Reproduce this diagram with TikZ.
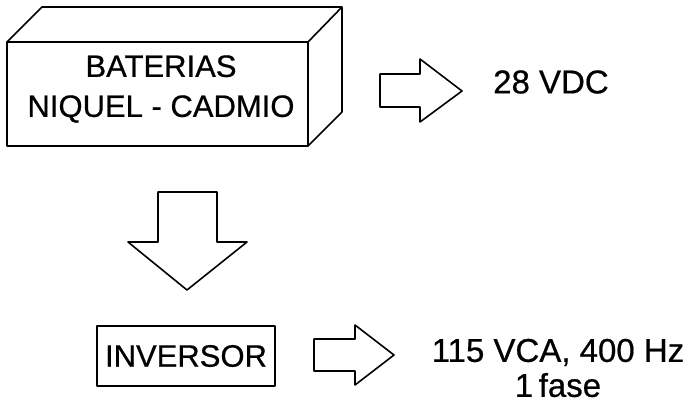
\documentclass[tikz,border=0pt]{standalone}
\usepackage{fontspec}
\setmainfont{Liberation Sans}[FakeBold=0.6]
\usetikzlibrary{positioning}

\begin{document}
\begin{tikzpicture}[
  x=1pt, y=-1pt,
  line join=round,
  edge/.style={draw=black, line width=1.6pt},
  label/.style={font=\fontsize{31}{40}\selectfont, align=center, inner sep=0pt},
  output/.style={font=\fontsize{33}{35}\selectfont, align=center, inner sep=0pt},
  blockarrow/.style={edge, fill=white}
]
\useasboundingbox (0,0) rectangle (689,404);
% battery block
\coordinate (bfl) at (7,42);
\coordinate (bfr) at (308,42);
\coordinate (bbr) at (308,146);
\draw[edge] (bfl) rectangle (bbr);
\draw[edge] (bfl) -- ++(35,-35) -- ++(300,0) -- (bfr);
\draw[edge] (342,7) -- (342,112) -- (bbr);
\node[label] (bat) at (161,89) {BATERIAS\\NIQUEL - CADMIO};
% right arrow, battery output
\draw[blockarrow] (380,74) -- (420,74) -- (420,59) -- (462,91)
  -- (420,122) -- (420,107) -- (380,107) -- cycle;
\node[output, anchor=west] (vdc) at (493,82) {28 VDC};
% down arrow
\draw[blockarrow] (158,192) -- (217,192) -- (217,242) -- (247,242)
  -- (187,290) -- (128,242) -- (158,242) -- cycle;
% inverter
\node[label, draw, line width=1.6pt, minimum width=178pt, minimum height=60pt]
  (inv) at (186,356) {INVERSOR};
% right arrow, inverter output
\draw[blockarrow] (314,339) -- (355,339) -- (355,325) -- (394,355)
  -- (355,385) -- (355,371) -- (314,371) -- cycle;
\node[output] (vca) at (558,368) {115 VCA, 400 Hz\\1\,fase};
\end{tikzpicture}
\end{document}
